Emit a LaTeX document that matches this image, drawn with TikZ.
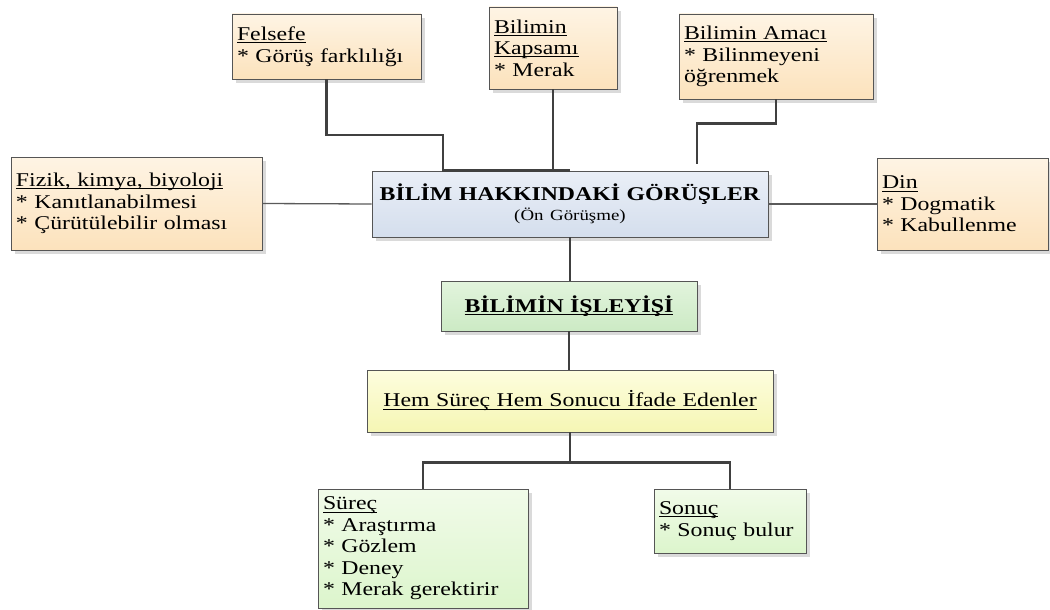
\documentclass[tikz,border=0pt]{standalone}
\usepackage{fontspec}
\setmainfont{Liberation Serif}[FakeStretch=1.22]
\usetikzlibrary{shadows}

% fills (top / bottom of each gradient)
\definecolor{warmTop}{RGB}{254,244,228}
\definecolor{warmBot}{RGB}{252,226,188}
\definecolor{blueTop}{RGB}{234,239,247}
\definecolor{blueBot}{RGB}{212,222,237}
\definecolor{leafTop}{RGB}{226,244,221}
\definecolor{leafBot}{RGB}{204,234,196}
\definecolor{lemonTop}{RGB}{253,253,222}
\definecolor{lemonBot}{RGB}{245,246,180}
\definecolor{mintTop}{RGB}{241,251,233}
\definecolor{mintBot}{RGB}{220,245,204}
\definecolor{boxline}{RGB}{85,85,85}
\definecolor{shadowgray}{RGB}{218,218,218}
\definecolor{linedark}{RGB}{64,64,64}
\definecolor{linegray}{RGB}{90,90,90}

\newcommand\boxfont{\fontsize{19.5}{21.5}\selectfont}
\newcommand\subfont{\fontsize{15.5}{18}\selectfont}
% heading underline sitting just under the baseline
\newcommand\hd[1]{\leavevmode\setbox0\hbox{#1}\rlap{\rule[-2.6pt]{\wd0}{0.9pt}}\box0}

\tikzset{
  card/.style={draw=boxline, line width=0.9pt, rectangle, inner xsep=5pt, inner ysep=2pt,
    font=\boxfont,
    drop shadow={shadow xshift=4pt, shadow yshift=-4pt, fill=shadowgray, opacity=1}},
  cardL/.style={card, align=left},
  cardC/.style={card, align=center},
  warmfill/.style={top color=warmTop, bottom color=warmBot},
  bluefill/.style={top color=blueTop, bottom color=blueBot},
  leaffill/.style={top color=leafTop, bottom color=leafBot},
  lemonfill/.style={top color=lemonTop, bottom color=lemonBot},
  mintfill/.style={top color=mintTop, bottom color=mintBot},
  conn/.style={draw=linedark, line width=2.6pt},
  connthin/.style={draw=linegray, line width=1.3pt},
}

\begin{document}
\begin{tikzpicture}[x=1pt,y=-1pt]
\useasboundingbox (0,0) rectangle (1050,610);

% upper ring of views
\node[cardL, warmfill, minimum width=189pt, minimum height=65pt, text width=179pt]
  (fel) at (326.5,46.5) {\hd{Felsefe}\\{*} Görüş farklılığı};
\node[cardL, warmfill, minimum width=128pt, minimum height=82pt, text width=118pt]
  (kap) at (553,48) {\hd{Bilimin}\\\hd{Kapsamı}\\{*} Merak};
\node[cardL, warmfill, minimum width=194pt, minimum height=85pt, text width=184pt]
  (ama) at (776,56.5) {\hd{Bilimin Amacı}\\{*} Bilinmeyeni\\öğrenmek};
\node[cardL, warmfill, minimum width=251pt, minimum height=93pt, text width=241pt]
  (fiz) at (136.5,203.5) {\hd{Fizik, kimya, biyoloji}\\{*} Kanıtlanabilmesi\\{*} Çürütülebilir olması};
\node[cardL, warmfill, minimum width=171pt, minimum height=92pt, text width=161pt]
  (din) at (962.5,204) {\hd{Din}\\{*} Dogmatik\\{*} Kabullenme};

% central column
\node[cardC, bluefill, minimum width=396pt, minimum height=66pt, text width=386pt]
  (cen) at (570,204) {\textbf{BİLİM HAKKINDAKİ GÖRÜŞLER}\\[-1pt]{\subfont (Ön Görüşme)}};
\node[cardC, leaffill, minimum width=256pt, minimum height=50pt, text width=246pt]
  (isl) at (569,306) {\hd{\textbf{BİLİMİN İŞLEYİŞİ}}};
\node[cardC, lemonfill, minimum width=406pt, minimum height=62pt, text width=396pt]
  (hem) at (570,401) {\hd{Hem Süreç Hem Sonucu İfade Edenler}};

% lower branches
\node[cardL, mintfill, minimum width=210pt, minimum height=119pt, text width=200pt]
  (sur) at (423,548.5) {\hd{Süreç}\\{*} Araştırma\\{*} Gözlem\\{*} Deney\\{*} Merak gerektirir};
\node[cardL, mintfill, minimum width=152pt, minimum height=64pt, text width=142pt]
  (son) at (730,521) {\hd{Sonuç}\\{*} Sonuç bulur};

% connectors
\coordinate (felJ) at (443,135);
\coordinate (amaE) at (697,164);
\draw[conn] (fel.south) |- (felJ) -- (felJ |- cen.north) -- (cen.north);
\draw[conn] (kap.south) -- (kap.south |- cen.north);
\draw[conn] (ama.south) -- ++(0,24) -| (amaE);
\draw[connthin] (fiz.east) -- (cen.west);
\draw[connthin] (cen.east) -- (din.west);
\draw[conn] (cen.south) -- (cen.south |- isl.north);
\draw[conn] (isl.south) -- (isl.south |- hem.north);
\draw[conn] (hem.south) -- ++(0,30) coordinate (hj);
\draw[conn] (sur.north) |- (hj) -| (son.north);
\end{tikzpicture}
\end{document}
